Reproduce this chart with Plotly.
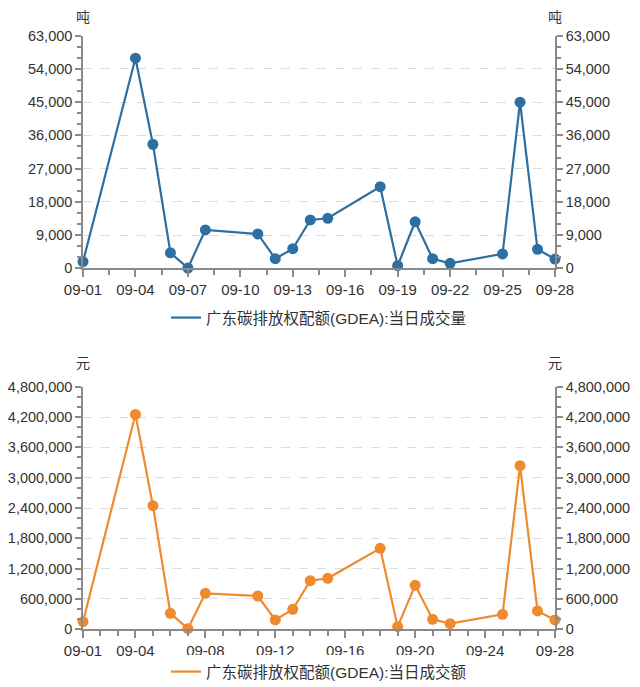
import plotly.graph_objects as go

# --------------------------------------------------------------------------
# DATA (2023-09, trading days)
# --------------------------------------------------------------------------
DATES = [
    "2023-09-01", "2023-09-04", "2023-09-05", "2023-09-06", "2023-09-07",
    "2023-09-08", "2023-09-11", "2023-09-12", "2023-09-13", "2023-09-14",
    "2023-09-15", "2023-09-18", "2023-09-19", "2023-09-20", "2023-09-21",
    "2023-09-22", "2023-09-25", "2023-09-26", "2023-09-27", "2023-09-28",
]
VOLUME = [
    1800, 56900, 33600, 4200, 50, 10400, 9300, 2600, 5300, 13100,
    13550, 22100, 700, 12600, 2600, 1350, 3900, 45000, 5150, 2500,
]
AMOUNT = [
    151600, 4252000, 2446000, 316000, 13000, 712000, 659000, 185000, 396000, 962600,
    1008700, 1602000, 52700, 870000, 198000, 112000, 296700, 3237000, 362600, 184600,
]
TOP_TICKS = ["2023-09-01", "2023-09-04", "2023-09-07", "2023-09-10", "2023-09-13",
             "2023-09-16", "2023-09-19", "2023-09-22", "2023-09-25", "2023-09-28"]
BOT_TICKS = ["2023-09-01", "2023-09-04", "2023-09-08", "2023-09-12", "2023-09-16",
             "2023-09-20", "2023-09-24", "2023-09-28"]
NAME_VOL = "广东碳排放权配额(GDEA):当日成交量"
NAME_AMT = "广东碳排放权配额(GDEA):当日成交额"

# --------------------------------------------------------------------------
# STYLE
# --------------------------------------------------------------------------
C_BLUE = "#2d6fa1"
C_ORANGE = "#ef8a2e"
C_AXIS = "#8a8a8a"
C_TEXT = "#333333"
FONT = "Liberation Sans, Arial, Noto Sans CJK SC, sans-serif"
DAY = 86400000
FS = 15
FS_Y = 14.5

# the page body keeps its 8px margin -> screen positions are shifted by 8px
OFF = 8
PT, PH = 2, 672


def py(px):
    return (PT + PH - (px - OFF)) / PH


fig = go.Figure()


def add_series(x, y, color, name, xa, ya, ya_r, legend):
    fig.add_trace(go.Scatter(
        x=x, y=y, mode="lines", name=name, xaxis=xa, yaxis=ya,
        line=dict(color=color, width=2.2), legend=legend, cliponaxis=False,
    ))
    fig.add_trace(go.Scatter(
        x=x, y=y, mode="markers", showlegend=False, xaxis=xa, yaxis=ya,
        marker=dict(color=color, size=11, line=dict(color=color, width=0)),
        cliponaxis=False,
    ))
    # invisible copy so the right-hand axis is drawn
    fig.add_trace(go.Scatter(
        x=x, y=y, mode="lines", showlegend=False, xaxis=xa, yaxis=ya_r,
        line=dict(width=0), opacity=0, hoverinfo="skip",
    ))


add_series(DATES, VOLUME, C_BLUE, NAME_VOL, "x", "y", "y3", "legend")
add_series(DATES, AMOUNT, C_ORANGE, NAME_AMT, "x2", "y2", "y4", "legend2")

X_RANGE = ["2023-09-01", "2023-09-28"]
TOP_DOM = [py(268.3), py(35.7)]
BOT_DOM = [py(629.3), py(386.7)]

xcommon = dict(
    type="date", range=X_RANGE, showgrid=False, showline=True, linecolor=C_AXIS,
    linewidth=1.5, ticks="outside", ticklen=7, tickcolor=C_AXIS, tickwidth=1.5,
    tickformat="%m-%d", tickfont=dict(size=FS, color=C_TEXT), zeroline=False,
    automargin=False,
)
ycommon = dict(
    showline=True, linecolor=C_AXIS, linewidth=1.5, ticks="outside", ticklen=6,
    tickcolor=C_AXIS, tickwidth=1.5, tickfont=dict(size=FS_Y, color=C_TEXT),
    tickformat=",d", zeroline=False, automargin=False,
)
yminor = dict(ticks="outside", ticklen=4, tickcolor=C_AXIS, showgrid=False)
xminor = dict(ticks="outside", ticklen=5, tickcolor=C_AXIS, showgrid=False,
              tick0="2023-09-01")

fig.update_layout(
    width=640, height=687,
    margin=dict(l=82.7 - OFF, r=640 - (555 - OFF), t=PT, b=687 - PT - PH),
    paper_bgcolor="white", plot_bgcolor="white",
    font=dict(family=FONT, color=C_TEXT),
    xaxis=dict(**xcommon, domain=[0, 1], anchor="y", tickvals=TOP_TICKS,
               minor=dict(**xminor, dtick=1.5 * DAY)),
    xaxis2=dict(**xcommon, domain=[0, 1], anchor="y2", tickvals=BOT_TICKS,
                minor=dict(**xminor, dtick=DAY)),
    yaxis=dict(**ycommon, domain=TOP_DOM, anchor="x", range=[0, 63000], dtick=9000,
               showgrid=True, gridcolor="#dcdcdc", griddash="dash", gridwidth=1,
               minor=dict(**yminor, dtick=3000)),
    yaxis3=dict(**ycommon, domain=TOP_DOM, anchor="x", overlaying="y", side="right",
                range=[0, 63000], dtick=9000, showgrid=False,
                minor=dict(**yminor, dtick=3000)),
    yaxis2=dict(**ycommon, domain=BOT_DOM, anchor="x2", range=[0, 4800000],
                dtick=600000, showgrid=True, gridcolor="#dcdcdc", griddash="dash",
                gridwidth=1, minor=dict(**yminor, dtick=200000)),
    yaxis4=dict(**ycommon, domain=BOT_DOM, anchor="x2", overlaying="y2",
                side="right", range=[0, 4800000], dtick=600000, showgrid=False,
                minor=dict(**yminor, dtick=200000)),
    legend=dict(orientation="h", x=0.5, xanchor="center", y=py(318),
                yanchor="middle", font=dict(size=15.5, color=C_TEXT), itemwidth=30),
    legend2=dict(orientation="h", x=0.5, xanchor="center", y=py(672),
                 yanchor="middle", font=dict(size=15.5, color=C_TEXT), itemwidth=30),
)

# unit labels
for x_pos, ypix, unit in [(0, 17, "吨"), (1, 17, "吨"), (0, 363, "元"), (1, 363, "元")]:
    fig.add_annotation(x=x_pos, y=py(ypix), xref="paper", yref="paper", text=unit,
                       showarrow=False, xanchor="center", yanchor="middle",
                       font=dict(size=14, color=C_TEXT))

fig.write_html("out.html")
